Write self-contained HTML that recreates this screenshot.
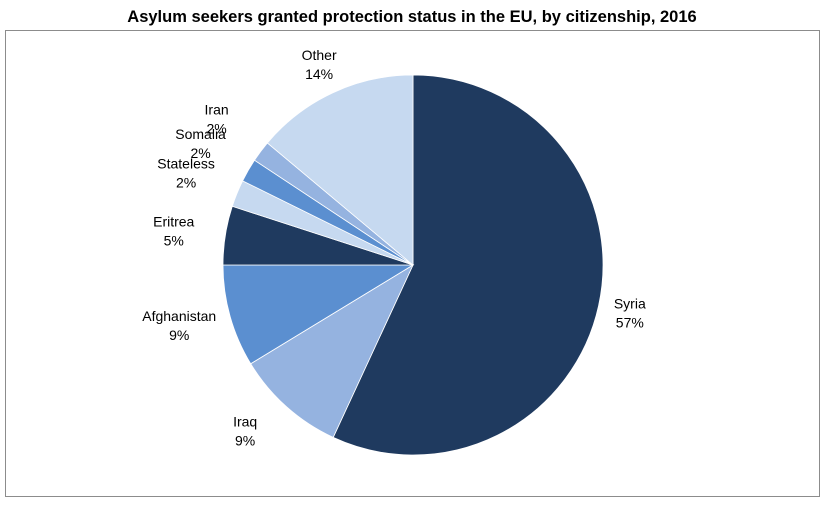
<!DOCTYPE html>
<html>
<head>
<meta charset="utf-8">
<style>
  html,body{margin:0;padding:0;background:#fff;}
  body{width:825px;height:507px;overflow:hidden;font-family:"Liberation Sans",Arial,sans-serif;}
</style>
</head>
<body>
<svg id="chart" width="825" height="507" viewBox="0 0 825 507" xmlns="http://www.w3.org/2000/svg">
  <text x="412" y="22" text-anchor="middle" font-family="Liberation Sans, Arial, sans-serif" font-weight="bold" font-size="16.5" fill="#000">Asylum seekers granted protection status in the EU, by citizenship, 2016</text>
  <rect x="5.5" y="30.5" width="814" height="466" fill="none" stroke="#8c8c8c" stroke-width="1"/>
  <g id="slices"></g>
  <g id="labels"></g>
</svg>
<script>
const categories = ["Syria","Iraq","Afghanistan","Eritrea","Stateless","Somalia","Iran","Other"];
const values = [56.9, 9.4, 8.7, 5.0, 2.3, 2.0, 1.8, 13.9];
const printedLabels = ["57%","9%","9%","5%","2%","2%","2%","14%"];
const colors = ["#1f3a5f","#95b3e0","#5b8fd0","#1f3a5f","#c6d9f0","#5b8fd0","#95b3e0","#c6d9f0"];

const NS = "http://www.w3.org/2000/svg";
const cx = 413, cy = 265, r = 190;
const total = values.reduce((a,b)=>a+b,0);
const sg = document.getElementById('slices');
const lg = document.getElementById('labels');
function pt(angle, rad){ return [cx + rad*Math.sin(angle), cy - rad*Math.cos(angle)]; }
let acc = 0;
values.forEach((v,i)=>{
  const a0 = acc/total*2*Math.PI;
  acc += v;
  const a1 = acc/total*2*Math.PI;
  const [x0,y0] = pt(a0,r), [x1,y1] = pt(a1,r);
  const large = (a1-a0) > Math.PI ? 1 : 0;
  const p = document.createElementNS(NS,'path');
  p.setAttribute('d',`M${cx},${cy} L${x0},${y0} A${r},${r} 0 ${large} 1 ${x1},${y1} Z`);
  p.setAttribute('fill',colors[i]);
  p.setAttribute('stroke','#fff');
  p.setAttribute('stroke-width','0.8');
  
  
  sg.appendChild(p);

  const am = (a0+a1)/2;
  const frac = v/total;
  let lr = frac < 0.04 ? 245 : 222;
  let [lx,ly] = pt(am, lr);
  if (Math.sin(am) < -0.5 && frac >= 0.04) lx -= 20;
  const t = document.createElementNS(NS,'text');
  t.setAttribute('x',lx);
  t.setAttribute('y',ly-4);
  t.setAttribute('text-anchor','middle');
  t.setAttribute('font-size','14');
  t.setAttribute('font-family','Liberation Sans, Arial, sans-serif');
  t.setAttribute('fill','#000');
  
  
  const s1 = document.createElementNS(NS,'tspan');
  s1.setAttribute('x',lx); s1.textContent = categories[i];
  const s2 = document.createElementNS(NS,'tspan');
  s2.setAttribute('x',lx); s2.setAttribute('dy','19'); s2.textContent = printedLabels[i];
  t.appendChild(s1); t.appendChild(s2);
  lg.appendChild(t);
});
</script>
</body>
</html>
